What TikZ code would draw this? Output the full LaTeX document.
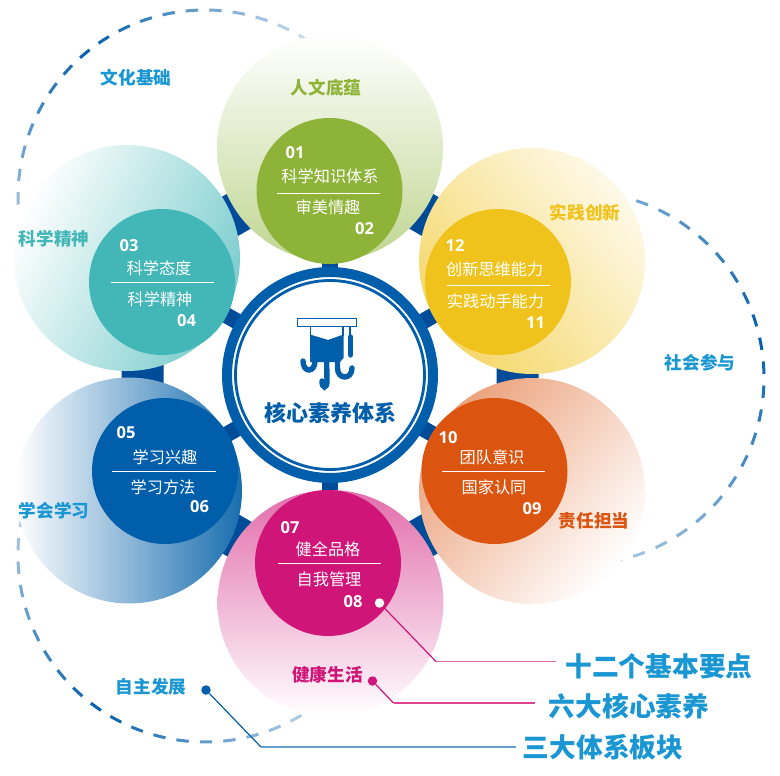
\documentclass[tikz,border=0pt]{standalone}
\usepackage{fontspec}
\newfontfamily\cjk{Noto Sans CJK SC}
\newfontfamily\digits{Open Sans}
\definecolor{ringblue}{RGB}{0,94,170}
\definecolor{bandblue}{RGB}{0,76,152}
\definecolor{paleblue}{RGB}{196,216,234}
\definecolor{labelblue}{RGB}{26,150,210}
\definecolor{edgeblue}{RGB}{25,110,175}
\definecolor{cgreen}{RGB}{141,180,56}
\definecolor{cteal}{RGB}{67,183,184}
\definecolor{cyellow}{RGB}{240,195,28}
\definecolor{corange}{RGB}{220,85,16}
\definecolor{cpink}{RGB}{208,21,120}
\tikzset{
  bigc/.style={circle,minimum size=226pt,inner sep=0pt,draw=none},
  innerc/.style={circle,minimum size=146pt,inner sep=0pt,draw=none},
  itext/.style={text=white,inner sep=0pt,font=\cjk\fontsize{16.2}{17}\selectfont},
  inum/.style={text=white,inner sep=0pt,font=\digits\bfseries\fontsize{16.5}{17}\selectfont},
  olabel/.style={inner sep=0pt,font=\cjk\bfseries\fontsize{17.6}{18}\selectfont},
  biglabel/.style={text=labelblue,inner sep=0pt,font=\cjk\bfseries\fontsize{26.7}{28}\selectfont},
  divider/.style={draw=white,line width=1pt},
  dot/.style={circle,minimum size=9.5pt,inner sep=0pt},
  leader/.style={line width=1.2pt},
  drip/.style={ringblue,line width=5.4pt,line cap=round},
}
\newcommand{\dasharc}[7]{% cx cy start step count peak span
  \foreach \k in {0,...,#5}{
    \pgfmathsetmacro{\ta}{#3+#4*\k}
    \pgfmathsetmacro{\mixv}{100*max(0,1-abs(\ta-#6)/#7)}
    \draw[line width=3pt,color=ringblue!\mixv!paleblue]
      plot[domain=\ta-1.9:\ta+1.9,samples=5] ({#1+187*cos(\x)},{#2-187*sin(\x)});
  }
}
\begin{document}
\begin{tikzpicture}[x=1pt,y=-1pt]
\useasboundingbox (0,0) rectangle (780,776);
\fill[white] (0,0) rectangle (780,776);
% dashed arcs
\dasharc{205}{197}{58}{7.2}{17}{128}{68}
\dasharc{205}{555}{169.5}{7.2}{18}{235}{72}
\dasharc{577}{378}{-78}{7.38}{20}{12}{100}
% hexagon band and spokes
\coordinate (ctr) at (330,375);
\coordinate (h1) at (330,158.5);
\coordinate (h2) at (517.5,267);
\coordinate (h3) at (517.5,483);
\coordinate (h4) at (330,591.5);
\coordinate (h5) at (142.5,483);
\coordinate (h6) at (142.5,267);
\draw[bandblue,line width=42pt] (h1)--(h2)--(h3)--(h4)--(h5)--(h6)--cycle;
\foreach \h in {h1,h2,h3,h4,h5,h6}{\draw[bandblue,line width=16pt] (ctr)--(\h);}
% big circles
\node[bigc,top color=white,bottom color=cgreen!55!white] (b1) at (330,148) {};
\node[bigc,top color=white,bottom color=cteal!70!white,shading angle=65] (b6) at (127,258) {};
\node[bigc,left color=white,right color=edgeblue] (b5) at (129,490.5) {};
\node[bigc,top color=cyellow!10!white,bottom color=cyellow!65!white,shading angle=-50] (b2) at (532,261) {};
\node[bigc,top color=corange!55!white,bottom color=white,shading angle=50] (b3) at (532,491) {};
\node[bigc,top color=cpink!62!white,bottom color=white] (b4) at (330.5,603) {};
% inner circles
\node[innerc,fill=cgreen] (i1) at (329.5,191) {};
\node[innerc,fill=cyellow] (i2) at (498,282) {};
\node[innerc,fill=corange] (i3) at (494.5,471) {};
\node[innerc,fill=cpink] (i4) at (328,563) {};
\node[innerc,fill=ringblue] (i5) at (165,471) {};
\node[innerc,fill=cteal] (i6) at (162,282) {};
% central ring
\node[circle,minimum size=206pt,inner sep=0pt,fill=white,draw=ringblue,line width=10pt] (ring) at (ctr) {};
\node[circle,minimum size=189pt,inner sep=0pt,draw=ringblue,line width=2.8pt] (ringin) at (ctr) {};
\node[inner sep=0pt,text=ringblue,font=\cjk\bfseries\fontsize{22}{24}\selectfont] (core) at (330,413) {核心素养体系};
% icon
\draw[ringblue,line width=1.4pt,fill=white] (297.5,318.5) rectangle (356.5,326.5);
\draw[ringblue,line width=1.2pt] (310.5,327)--(310.5,336) (343,327)--(343,336) (350,327)--(350,336);
\fill[ringblue] (310,334.5)--(328,340)--(343.5,334.5)--(343.5,358)--(340,362)--(310,362)--cycle;
\draw[drip] (350.5,337)--(350.5,355);
\draw[drip] (303,361) .. controls (303,373) and (315,373) .. (315,361) -- (315,352);
\draw[drip] (322,381) .. controls (322,389) and (327,389) .. (327,381) -- (326.5,352);
\draw[drip] (352,368) .. controls (352,380) and (337.5,380) .. (337.5,368) -- (337.5,352);
% inner texts
\node[inum] (n01) at (295,153) {01};
\node[itext] (t01) at (330,176) {科学知识体系};
\draw[divider] (277,193)--(380,193);
\node[itext] (t02) at (328,207) {审美情趣};
\node[inum] (n02) at (364.5,229) {02};
\node[inum] (n03) at (129,246) {03};
\node[itext] (t03) at (159,268) {科学态度};
\draw[divider] (111,282)--(214,282);
\node[itext] (t04) at (160,299) {科学精神};
\node[inum] (n04) at (186.5,321) {04};
\node[inum] (n05) at (126,433) {05};
\node[itext] (t05) at (165,457) {学习兴趣};
\draw[divider] (112,471)--(216,471);
\node[itext] (t06) at (163,487) {学习方法};
\node[inum] (n06) at (199.5,507) {06};
\node[inum] (n07) at (290,528) {07};
\node[itext] (t07) at (328,549) {健全品格};
\draw[divider] (278,563)--(381,563);
\node[itext] (t08) at (329,579) {自我管理};
\node[inum] (n08) at (353,602) {08};
\node[inum] (n09) at (532,509) {09};
\node[itext] (t09) at (494,487) {国家认同};
\draw[divider] (442,471)--(545,471);
\node[itext] (t10) at (492,457) {团队意识};
\node[inum] (n10) at (448,438) {10};
\node[inum] (n11) at (535.5,323) {11};
\node[itext] (t11) at (495.5,301) {实践动手能力};
\draw[divider] (447,285)--(550,285);
\node[itext] (t12) at (494.7,269) {创新思维能力};
\node[inum] (n12) at (455,246) {12};
% outer labels
\node[olabel,text=labelblue] (l1) at (136,78) {文化基础};
\node[olabel,text=cgreen] (l2) at (326,88) {人文底蕴};
\node[olabel,text=cyellow] (l3) at (585,213) {实践创新};
\node[olabel,text=cteal] (l4) at (54,239) {科学精神};
\node[olabel,text=labelblue] (l5) at (700,363) {社会参与};
\node[olabel,text=labelblue] (l6) at (54,511) {学会学习};
\node[olabel,text=corange] (l7) at (594,521) {责任担当};
\node[olabel,text=cpink] (l8) at (327.5,675) {健康生活};
\node[olabel,text=labelblue] (l9) at (151,687) {自主发展};
% leaders
\node[biglabel] (k1) at (659,666) {十二个基本要点};
\node[biglabel] (k2) at (629,706) {六大核心素养};
\node[biglabel] (k3) at (603,747) {三大体系板块};
\node[dot,fill=white] (d1) at (379.5,603) {};
\node[dot,fill=cpink] (d2) at (372.5,681) {};
\node[dot,fill=ringblue] (d3) at (206,690) {};
\coordinate (e1) at (556,661.5);
\coordinate (e2) at (535,703);
\coordinate (e3) at (516,747);
\coordinate (m1) at (436,661.5);
\coordinate (m2) at (393.5,703);
\coordinate (m3) at (261,747);
\draw[leader,cpink] (d1)--(m1);
\draw[leader,cpink!65!white] (m1)--(e1);
\draw[leader,cpink] (d2)--(m2);
\draw[leader,cpink!80!white] (m2)--(e2);
\draw[leader,ringblue] (d3)--(m3);
\draw[leader,ringblue!60!white] (m3)--(e3);
\end{tikzpicture}
\end{document}
